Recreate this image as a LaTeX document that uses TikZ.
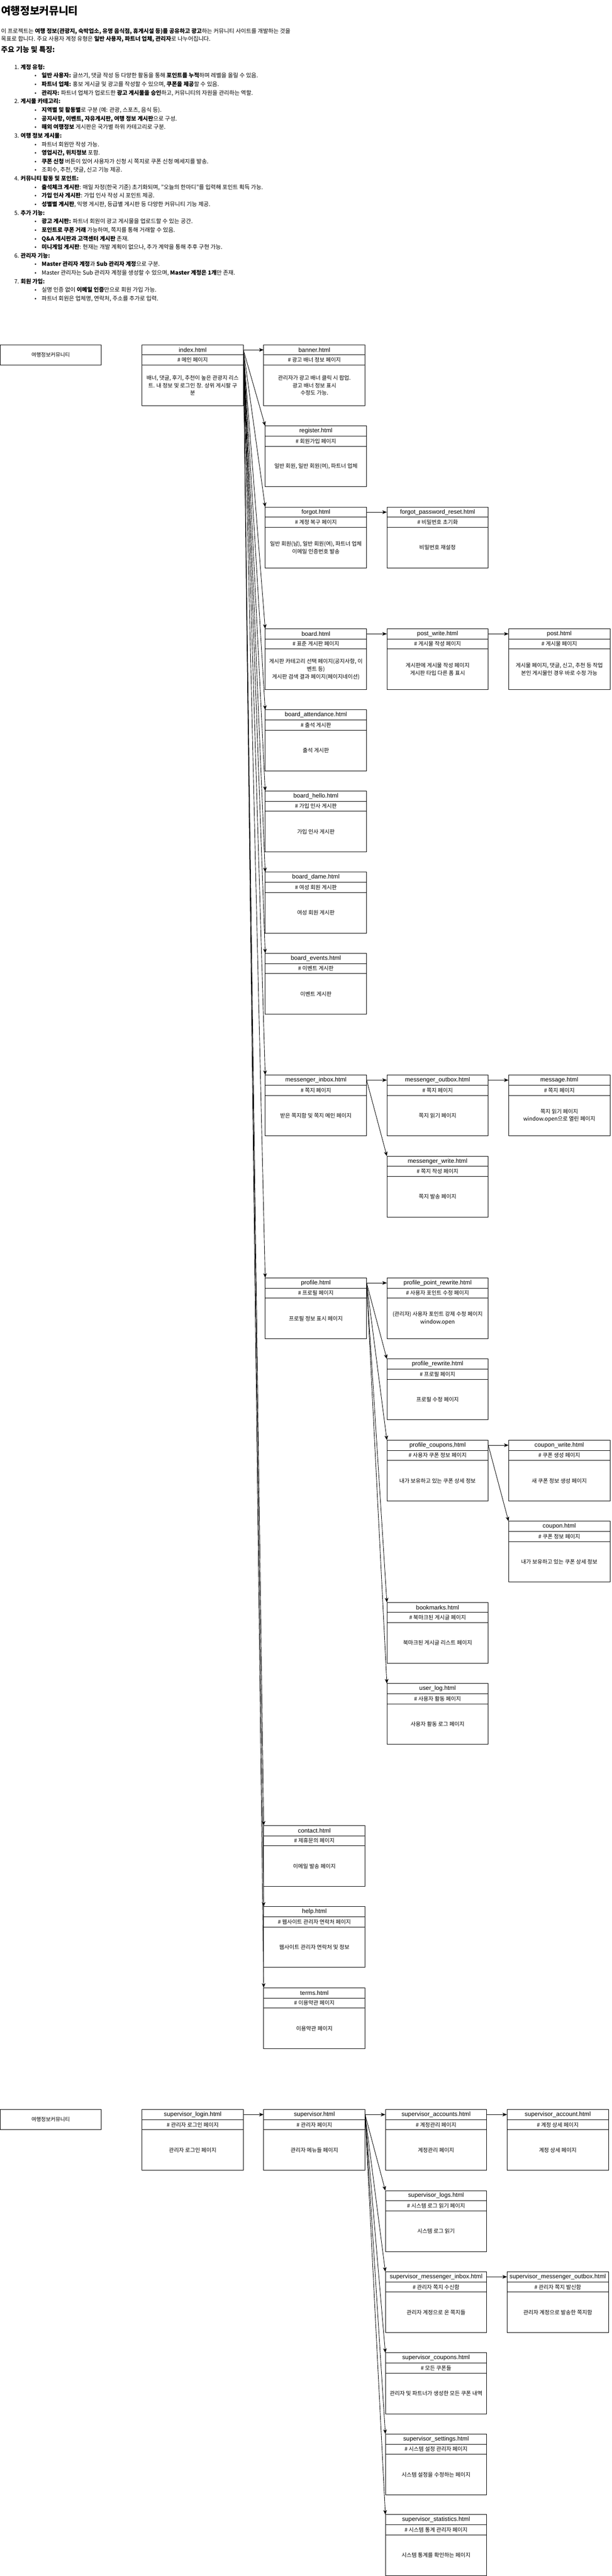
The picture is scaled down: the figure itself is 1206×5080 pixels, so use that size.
\documentclass[tikz,border=0pt]{standalone}
\usepackage{fontspec}
\usetikzlibrary{arrows.meta}
\setmainfont{Noto Sans CJK KR}[Scale=0.86]
\newfontfamily\latinfont{Liberation Sans}

\tikzset{
  pagebox/.style={draw, line width=1pt, minimum width=200pt, minimum height=120pt,
    anchor=north west, inner sep=0pt, outer sep=0pt},
  sitebox/.style={draw, line width=1pt, minimum width=199pt, minimum height=40pt,
    anchor=north west, inner sep=0pt, outer sep=0pt, font=\fontsize{12}{14}\selectfont},
  boxline/.style={line width=1pt},
  boxtitle/.style={inner sep=0pt, align=center, font=\latinfont\fontsize{12}{14.5}\selectfont},
  boxtext/.style={inner sep=0pt, align=center, font=\fontsize{12.5}{15}\selectfont},
  arr/.style={draw, line width=0.9pt, -{Stealth[length=9pt,width=7pt,inset=2.5pt]}},
  doc/.style={anchor=base west, inner sep=0pt, font=\fontsize{13}{15}\selectfont},
}

% name, x, y, title, subtitle, body
\newcommand\sitepage[6]{%
  \node[pagebox] (#1) at (#2,#3) {};
  \draw[boxline] (#2,#3+20) -- (#2+200,#3+20);
  \draw[boxline] (#2,#3+40) -- (#2+200,#3+40);
  \node[boxtitle] (#1-t) at (#2+100,#3+10) {#4};
  \node[boxtext] (#1-s) at (#2+100,#3+30) {#5};
  \node[boxtext] (#1-b) at (#2+100,#3+80) {#6};
}
\newcommand\numline[3]{\node[doc] (#1) at (28,#2) {#3};}
\newcommand\bulline[3]{\node[doc] (#1-d) at (68,#2) {•};\node[doc] (#1) at (82,#2) {#3};}
\newcommand\hedge[2]{\draw[arr] ([yshift=-10pt]#1.north east) -- ([yshift=-10pt]#2.north west);}
\newcommand\fedge[2]{\draw[arr] ([yshift=-10pt]#1.north east) -- (#2.north west);}

\begin{document}
\begin{tikzpicture}[x=1pt,y=-1pt]
\useasboundingbox[fill=white] (0,0) rectangle (1206,5080);

% ---------- text block ----------
\node[doc, font=\bfseries\fontsize{24}{28}\selectfont] (title) at (2,28.5) {여행정보커뮤니티};
\node[doc] (p1) at (2,65.5) {이 프로젝트는 \textbf{여행 정보(관광지, 숙박업소, 유명 음식점, 휴게시설 등)를 공유하고 광고}하는 커뮤니티 사이트를 개발하는 것을};
\node[doc] (p2) at (2,81) {목표로 합니다. 주요 사용자 계정 유형은 \textbf{일반 사용자, 파트너 업체, 관리자}로 나누어집니다.};
\node[doc, font=\bfseries\fontsize{16.5}{19}\selectfont] (head) at (2,103) {주요 기능 및 특징:};

\numline{n1}{136.5}{1. \textbf{계정 유형:}}
\bulline{b11}{153.4}{\textbf{일반 사용자:} 글쓰기, 댓글 작성 등 다양한 활동을 통해 \textbf{포인트를 누적}하며 레벨을 올릴 수 있음.}
\bulline{b12}{170.3}{\textbf{파트너 업체:} 홍보 게시글 및 광고를 작성할 수 있으며, \textbf{쿠폰을 제공}할 수 있음.}
\bulline{b13}{187.2}{\textbf{관리자:} 파트너 업체가 업로드한 \textbf{광고 게시물을 승인}하고, 커뮤니티의 자원을 관리하는 역할.}
\numline{n2}{204.1}{2. \textbf{게시물 카테고리:}}
\bulline{b21}{221}{\textbf{지역별 및 활동별}로 구분 (예: 관광, 스포츠, 음식 등).}
\bulline{b22}{237.9}{\textbf{공지사항, 이벤트, 자유게시판, 여행 정보 게시판}으로 구성.}
\bulline{b23}{254.8}{\textbf{해외 여행정보} 게시판은 국가별 하위 카테고리로 구분.}
\numline{n3}{271.7}{3. \textbf{여행 정보 게시물:}}
\bulline{b31}{288.6}{파트너 회원만 작성 가능.}
\bulline{b32}{305.5}{\textbf{영업시간, 위치정보} 포함.}
\bulline{b33}{322.4}{\textbf{쿠폰 신청} 버튼이 있어 사용자가 신청 시 쪽지로 쿠폰 신청 메세지를 발송.}
\bulline{b34}{339.3}{조회수, 추천, 댓글, 신고 기능 제공.}
\numline{n4}{356.2}{4. \textbf{커뮤니티 활동 및 포인트:}}
\bulline{b41}{373.1}{\textbf{출석체크 게시판}: 매일 자정(한국 기준) 초기화되며, "오늘의 한마디"를 입력해 포인트 획득 가능.}
\bulline{b42}{390}{\textbf{가입 인사 게시판}: 가입 인사 작성 시 포인트 제공.}
\bulline{b43}{406.9}{\textbf{성별별 게시판}, 익명 게시판, 등급별 게시판 등 다양한 커뮤니티 기능 제공.}
\numline{n5}{423.8}{5. \textbf{추가 기능:}}
\bulline{b51}{440.7}{\textbf{광고 게시판:} 파트너 회원이 광고 게시물을 업로드할 수 있는 공간.}
\bulline{b52}{457.6}{\textbf{포인트로 쿠폰 거래} 가능하며, 쪽지를 통해 거래할 수 있음.}
\bulline{b53}{474.5}{\textbf{Q\&A 게시판과 고객센터 게시판} 존재.}
\bulline{b54}{491.4}{\textbf{미니게임 게시판}: 현재는 개발 계획이 없으나, 추가 계약을 통해 추후 구현 가능.}
\numline{n6}{508.3}{6. \textbf{관리자 기능:}}
\bulline{b61}{525.2}{\textbf{Master 관리자 계정}과 \textbf{Sub 관리자 계정}으로 구분.}
\bulline{b62}{542.1}{Master 관리자는 Sub 관리자 계정을 생성할 수 있으며, \textbf{Master 계정은 1개}만 존재.}
\numline{n7}{559}{7. \textbf{회원 가입:}}
\bulline{b71}{575.9}{실명 인증 없이 \textbf{이메일 인증}만으로 회원 가입 가능.}
\bulline{b72}{592.8}{파트너 회원은 업체명, 연락처, 주소를 추가로 입력.}

% ---------- site map ----------
\node[sitebox] (komm1) at (0.5,680) {여행정보커뮤니티};

\sitepage{index}{280}{680}{index.html}{\# 메인 페이지}{배너, 댓글, 후기, 추천이 높은 관광지 리스\\트. 내 정보 및 로그인 창. 상위 게시팔 구\\분}
\sitepage{banner}{520}{680}{banner.html}{\# 광고 배너 정보 페이지}{관리자가 광고 배너 클릭 시 팝업.\\광고 배너 정보 표시\\수정도 가능.}
\sitepage{register}{523}{840}{register.html}{\# 회원가입 페이지}{일반 회원, 일반 회원(여), 파트너 업체}
\sitepage{forgot}{523}{1000}{forgot.html}{\# 계정 복구 페이지}{일반 회원(남), 일반 회원(여), 파트너 업체\\이메일 인증번호 발송}
\sitepage{reset}{763}{1000}{forgot\_password\_reset.html}{\# 비밀번호 초기화}{비밀번호 재설정}
\sitepage{board}{523}{1240}{board.html}{\# 표준 게시판 페이지}{게시판 카테고리 선택 페이지(공지사항, 이\\벤트 등)\\게시판 검색 결과 페이지(페이지네이션)}
\sitepage{pwrite}{763}{1240}{post\_write.html}{\# 게시물 작성 페이지}{게시판에 게시물 작성 페이지\\게시판 타입 다른 폼 표시}
\sitepage{post}{1003}{1240}{post.html}{\# 게시물 페이지}{게시물 페이지, 댓글, 신고, 추천 등 작업\\본인 게시물인 경우 바로 수정 가능}
\sitepage{attend}{523}{1400}{board\_attendance.html}{\# 출석 게시판}{출석 게시판}
\sitepage{hello}{523}{1560}{board\_hello.html}{\# 가입 인사 게시판}{가입 인사 게시판}
\sitepage{dame}{523}{1720}{board\_dame.html}{\# 여성 회원 게시판}{여성 회원 게시판}
\sitepage{events}{523}{1880}{board\_events.html}{\# 이벤트 게시판}{이벤트 게시판}
\sitepage{minbox}{523}{2120}{messenger\_inbox.html}{\# 쪽지 페이지}{받은 쪽지함 및 쪽지 메인 페이지}
\sitepage{moutbox}{763}{2120}{messenger\_outbox.html}{\# 쪽지 페이지}{쪽지 읽기 페이지}
\sitepage{message}{1003}{2120}{message.html}{\# 쪽지 페이지}{쪽지 읽기 페이지\\window.open으로 열린 페이지}
\sitepage{mwrite}{763}{2280}{messenger\_write.html}{\# 쪽지 작성 페이지}{쪽지 발송 페이지}
\sitepage{profile}{523}{2520}{profile.html}{\# 프로필 페이지}{프로필 정보 표시 페이지}
\sitepage{ppoint}{763}{2520}{profile\_point\_rewrite.html}{\# 사용자 포인트 수정 페이지}{(관리자) 사용자 포인트 강제 수정 페이지\\window.open}
\sitepage{prewrite}{763}{2680}{profile\_rewrite.html}{\# 프로필 페이지}{프로필 수정 페이지}
\sitepage{pcoupons}{763}{2840}{profile\_coupons,html}{\# 사용자 쿠폰 정보 페이지}{내가 보유하고 있는 쿠폰 상세 정보}
\sitepage{cwrite}{1003}{2840}{coupon\_write.html}{\# 쿠폰 생성 페이지}{새 쿠폰 정보 생성 페이지}
\sitepage{coupon}{1003}{3000}{coupon.html}{\# 쿠폰 정보 페이지}{내가 보유하고 있는 쿠폰 상세 정보}
\sitepage{bookmarks}{763}{3160}{bookmarks.html}{\# 북마크된 게시글 페이지}{북마크된 게시글 리스트 페이지}
\sitepage{userlog}{763}{3320}{user\_log.html}{\# 사용자 활동 페이지}{사용자 활동 로그 페이지}
\sitepage{contact}{520}{3600}{contact.html}{\# 제휴문의 페이지}{이메일 발송 페이지}
\sitepage{help}{520}{3760}{help.html}{\# 웹사이트 관리자 연락처 페이지}{웹사이트 관리자 연락처 및 정보}
\sitepage{terms}{520}{3920}{terms.html}{\# 이용약관 페이지}{이용약관 페이지}

\hedge{index}{banner}
\fedge{index}{register}
\fedge{index}{forgot}
\fedge{index}{board}
\fedge{index}{attend}
\fedge{index}{hello}
\fedge{index}{dame}
\fedge{index}{events}
\fedge{index}{minbox}
\fedge{index}{profile}
\fedge{index}{contact}
\fedge{index}{help}
\fedge{index}{terms}
\hedge{forgot}{reset}
\hedge{board}{pwrite}
\hedge{pwrite}{post}
\hedge{minbox}{moutbox}
\hedge{moutbox}{message}
\fedge{minbox}{mwrite}
\hedge{profile}{ppoint}
\fedge{profile}{prewrite}
\fedge{profile}{pcoupons}
\fedge{profile}{bookmarks}
\fedge{profile}{userlog}
\hedge{pcoupons}{cwrite}
\fedge{pcoupons}{coupon}

% ---------- supervisor map ----------
\node[sitebox] (komm2) at (0.5,4160) {여행정보커뮤니티};
\sitepage{slogin}{280}{4160}{supervisor\_login.html}{\# 관리자 로그인 페이지}{관리자 로그인 페이지}
\sitepage{sup}{520}{4160}{supervisor.html}{\# 관리자 페이지}{관리자 메뉴들 페이지}
\sitepage{saccounts}{760}{4160}{supervisor\_accounts.html}{\# 계정관리 페이지}{계정관리 페이지}
\sitepage{saccount}{1000}{4160}{supervisor\_account.html}{\# 계정 상세 페이지}{계정 상세 페이지}
\sitepage{slogs}{760}{4320}{supervisor\_logs.html}{\# 시스템 로그 읽기 페이지}{시스템 로그 읽기}
\sitepage{sminbox}{760}{4480}{supervisor\_messenger\_inbox.html}{\# 관리자 쪽지 수신함}{관리자 계정으로 온 쪽지들}
\sitepage{smoutbox}{1000}{4480}{supervisor\_messenger\_outbox.html}{\# 관리자 쪽지 발신함}{관리자 계정으로 발송한 쪽지함}
\sitepage{scoupons}{760}{4640}{supervisor\_coupons.html}{\# 모든 쿠폰들}{관리자 및 파트너가 생성한 모든 쿠폰 내역}
\sitepage{ssettings}{760}{4800}{supervisor\_settings.html}{\# 시스템 설정 관리자 페이지}{시스템 설정을 수정하는 페이지}
\sitepage{sstats}{760}{4959}{supervisor\_statistics.html}{\# 시스템 통계 관리자 페이지}{시스템 통계를 확인하는 페이지}

\hedge{slogin}{sup}
\hedge{sup}{saccounts}
\hedge{saccounts}{saccount}
\fedge{sup}{slogs}
\fedge{sup}{sminbox}
\fedge{sup}{scoupons}
\fedge{sup}{ssettings}
\fedge{sup}{sstats}
\hedge{sminbox}{smoutbox}
\end{tikzpicture}
\end{document}
